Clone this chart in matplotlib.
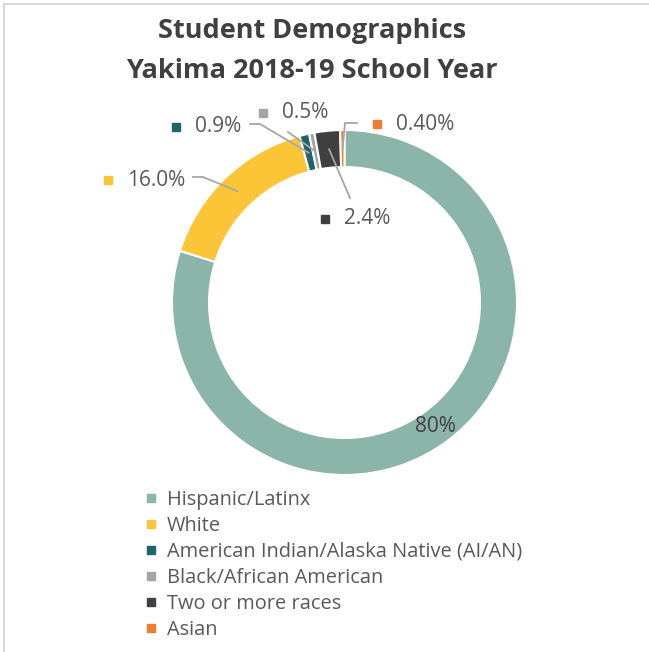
import numpy as np
import matplotlib.pyplot as plt
from matplotlib.lines import Line2D

plt.rcParams['font.family'] = ['Open Sans', 'DejaVu Sans']

# Data
groups = ['Hispanic/Latinx', 'White', 'American Indian/Alaska Native (AI/AN)',
          'Black/African American', 'Two or more races', 'Asian']
shares = [80, 16.0, 0.9, 0.5, 2.4, 0.40]
share_labels = ['80%', '16.0%', '0.9%', '0.5%', '2.4%', '0.40%']
colors = ['#8BB5A8', '#FBC537', '#22626D', '#A5A5A5', '#404040', '#ED7D31']

# canvas in pixel units (y flipped)
W, H = 649, 652
def Y(y):
    return H - y

fig = plt.figure(figsize=(W / 100, H / 100), dpi=100)
ax = fig.add_axes([0, 0, 1, 1])

cx, cy, R = 344.5, Y(302.5), 172.5
ring = 37
wedges, _ = ax.pie(shares, colors=colors, startangle=90, counterclock=False,
                   center=(cx, cy), radius=R, frame=True,
                   wedgeprops=dict(width=ring, edgecolor='white', linewidth=1.5))
ax.set_xlim(0, W)
ax.set_ylim(0, H)
ax.set_aspect('auto')
ax.axis('off')

# chart border (top and left only are visible)
ax.plot([4, W], [Y(4), Y(4)], color='#D9D9D9', lw=1.5)
ax.plot([4, 4], [Y(4), 0], color='#D9D9D9', lw=1.5)

# title
ax.text(312, Y(31), 'Student Demographics', ha='center', va='center',
        fontsize=19.5, fontweight='bold', color='#404040')
ax.text(312, Y(71), 'Yakima 2018-19 School Year', ha='center', va='center',
        fontsize=19.5, fontweight='bold', color='#404040')

def anchor(w):
    mid = np.deg2rad((w.theta1 + w.theta2) / 2)
    r = R - ring / 2
    return cx + r * np.cos(mid), cy + r * np.sin(mid)

# inside label for the big slice
ax.text(*anchor(wedges[0]), share_labels[0], ha='center', va='center',
        fontsize=15, color='#404040')

# outside labels: marker position and leader path start (pixel layout)
label_pos = {1: (108, 180), 2: (176, 127), 3: (263, 113), 4: (325, 219), 5: (377, 124)}
leader = {1: [(193, 177), (203, 177)],
          2: [(250, 124), (260, 124)],
          3: [(288, 132)],
          4: [(350, 198)],
          5: [(357, 123), (345, 123)]}

for i, (mx, my) in label_pos.items():
    ax.plot(mx, Y(my), marker='s', ms=6, color=colors[i], ls='none')
    ax.text(mx + 19, Y(my), share_labels[i], ha='left', va='center',
            fontsize=15, color='#595959')
    pts = [(x, Y(y)) for x, y in leader[i]] + [anchor(wedges[i])]
    xs, ys = zip(*pts)
    ax.plot(xs, ys, color='#A6A6A6', lw=1.3)

handles = [Line2D([], [], marker='s', ms=6, color=c, ls='none') for c in colors]
ax.legend(handles, groups, loc='upper left', bbox_to_anchor=(145, Y(490)),
          bbox_transform=ax.transData, frameon=False, fontsize=14.4,
          labelcolor='#595959', handlelength=0.6, handletextpad=0.5,
          labelspacing=0.3, borderpad=0, borderaxespad=0)

fig.savefig('out.png', dpi=100)
